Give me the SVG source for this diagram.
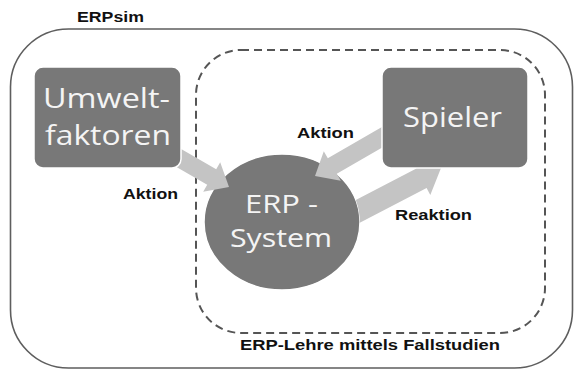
<svg xmlns="http://www.w3.org/2000/svg" width="574" height="370" viewBox="0 0 574 370">
<style>
.frame{fill:none;stroke:#5e5e5e;stroke-width:1.6}
.dash{fill:none;stroke:#555;stroke-width:2;stroke-dasharray:8 5}
.node{fill:#787878;stroke:#fff;stroke-width:1.5}
.arrow{fill:#c4c4c4;stroke:none}
.big{font-family:"Open Sans","Noto Sans",sans-serif;font-size:28px;fill:#f4f4f4}
.mid{font-family:"Open Sans","Noto Sans",sans-serif;font-size:25px;fill:#f4f4f4}
.lbl{font-family:"Liberation Sans",Arial,sans-serif;font-weight:bold;font-size:14px;fill:#111}
</style>
<rect width="574" height="370" fill="#fff"/>
<g id="erpsim">
<rect class="frame" x="10.5" y="29" width="562" height="339" rx="58" ry="58"/>
<text class="lbl" x="77" y="22" textLength="67" lengthAdjust="spacingAndGlyphs">ERPsim</text>
</g>
<g id="fallstudien">
<rect class="dash" x="196" y="50" width="349" height="283" rx="45" ry="45"/>
<text class="lbl" x="240" y="350" textLength="260" lengthAdjust="spacingAndGlyphs">ERP-Lehre mittels Fallstudien</text>
</g>
<g id="erp-system">
<ellipse class="node" cx="282" cy="222" rx="78" ry="68"/>
<text class="mid" x="245" y="213" textLength="73" lengthAdjust="spacingAndGlyphs">ERP -</text>
<text class="mid" x="230" y="247" textLength="102" lengthAdjust="spacingAndGlyphs">System</text>
</g>
<g id="connectors">
<path class="arrow" d="M355.8,199.9 L416.4,168.4 L412.7,161.4 L441,168 L430.3,195.1 L426.6,188 L359.8,222.8 A78,68 0 0 0 355.8,199.9 Z"/>
<polygon class="arrow" points="163.9,159.8 207.2,184.8 203.2,191.7 229,187 220.2,162.3 216.2,169.2 172.9,144.2"/>
<polygon class="arrow" points="388.4,123.2 327.8,158.2 323.8,151.3 315,176 340.8,180.7 336.8,173.8 397.4,138.8"/>
<text class="lbl" x="123" y="199" textLength="55" lengthAdjust="spacingAndGlyphs">Aktion</text>
<text class="lbl" x="297" y="138" textLength="57" lengthAdjust="spacingAndGlyphs">Aktion</text>
<text class="lbl" x="395" y="220" textLength="77" lengthAdjust="spacingAndGlyphs">Reaktion</text>
</g>
<g id="umweltfaktoren">
<rect class="node" x="34" y="67" width="147" height="101" rx="9" ry="9"/>
<text class="big" x="43" y="108" textLength="127" lengthAdjust="spacingAndGlyphs">Umwelt-</text>
<text class="big" x="45" y="145" textLength="126" lengthAdjust="spacingAndGlyphs">faktoren</text>
</g>
<g id="spieler">
<rect class="node" x="382" y="67" width="146" height="101" rx="9" ry="9"/>
<text class="big" x="403" y="127" textLength="99" lengthAdjust="spacingAndGlyphs">Spieler</text>
</g>
</svg>
